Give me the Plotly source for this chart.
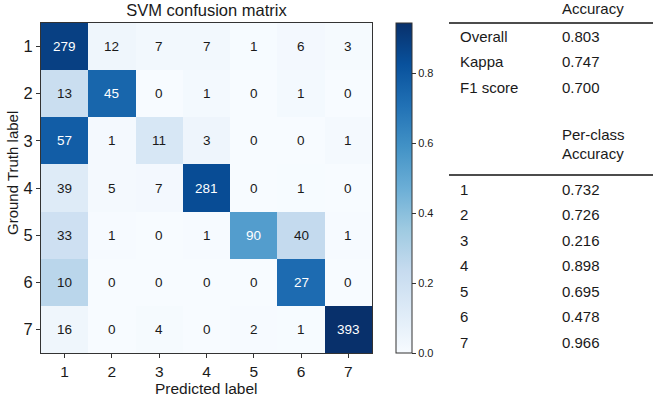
import plotly.graph_objects as go
import plotly.colors as pc

classes = ["1", "2", "3", "4", "5", "6", "7"]
confusion = [
    [279, 12, 7, 7, 1, 6, 3],
    [13, 45, 0, 1, 0, 1, 0],
    [57, 1, 11, 3, 0, 0, 1],
    [39, 5, 7, 281, 0, 1, 0],
    [33, 1, 0, 1, 90, 40, 1],
    [10, 0, 0, 0, 0, 27, 0],
    [16, 0, 4, 0, 2, 1, 393],
]
overall_names = ["Overall", "Kappa", "F1 score"]
overall_values = ["0.803", "0.747", "0.700"]
perclass_values = ["0.732", "0.726", "0.216", "0.898", "0.695", "0.478", "0.966"]

norm = [[v / sum(row) for v in row] for row in confusion]
zmax = max(max(r) for r in norm)

W, H = 660, 396
FONT = "Arial, Liberation Sans, Helvetica, sans-serif"
TXT = "#1a1a1a"

def px_x(p):
    return p / W

def px_y(p):
    return 1 - p / H

hx0, hx1, hy0, hy1 = 41, 372, 23, 353

fig = go.Figure()
fig.add_trace(go.Heatmap(
    z=norm, x=classes, y=classes,
    colorscale=pc.sequential.Blues, zmin=0, zmax=zmax,
    xgap=0, ygap=0, hoverinfo="skip",
    colorbar=dict(
        thickness=16, thicknessmode="pixels",
        len=(hy1 - hy0) / H, lenmode="fraction",
        x=px_x(396), xanchor="left", y=px_y(hy1), yanchor="bottom",
        xpad=0, ypad=0,
        outlinecolor="#333", outlinewidth=1,
        ticks="outside", ticklen=4, tickcolor="#333",
        tickvals=[0, 0.2, 0.4, 0.6, 0.8], tickformat=".1f",
        tickfont=dict(family=FONT, size=11, color=TXT),
    ),
))

anns = []
for i, row in enumerate(confusion):
    for j, v in enumerate(row):
        anns.append(dict(
            x=j, y=i, xref="x", yref="y", text=str(v),
            showarrow=False,
            font=dict(family=FONT, size=13.5, color="white" if norm[i][j] > zmax / 2 else TXT),
        ))

# axis titles
anns.append(dict(x=px_x(12), y=px_y(173), xref="paper", yref="paper",
                 text="Ground Truth label", textangle=-90, showarrow=False,
                 xanchor="center", yanchor="middle",
                 font=dict(family=FONT, size=15, color=TXT)))
anns.append(dict(x=px_x(206), y=px_y(388), xref="paper", yref="paper",
                 text="Predicted label", showarrow=False,
                 xanchor="center", yanchor="middle",
                 font=dict(family=FONT, size=15.5, color=TXT)))

# table text
TS = 15
lx, vx = 458, 560
anns.append(dict(x=px_x(vx), y=px_y(9), xref="paper", yref="paper", text="Accuracy",
                 xanchor="left", yanchor="middle", showarrow=False,
                 font=dict(family=FONT, size=TS, color=TXT)))
for k, (n, v) in enumerate(zip(overall_names, overall_values)):
    yy = 36 + k * 25.5
    anns.append(dict(x=px_x(lx), y=px_y(yy), xref="paper", yref="paper", text=n,
                     xanchor="left", yanchor="middle", showarrow=False,
                     font=dict(family=FONT, size=TS, color=TXT)))
    anns.append(dict(x=px_x(vx), y=px_y(yy), xref="paper", yref="paper", text=v,
                     xanchor="left", yanchor="middle", showarrow=False,
                     font=dict(family=FONT, size=TS, color=TXT)))
anns.append(dict(x=px_x(vx), y=px_y(134), xref="paper", yref="paper", text="Per-class",
                 xanchor="left", yanchor="middle", showarrow=False,
                 font=dict(family=FONT, size=TS, color=TXT)))
anns.append(dict(x=px_x(vx), y=px_y(153), xref="paper", yref="paper", text="Accuracy",
                 xanchor="left", yanchor="middle", showarrow=False,
                 font=dict(family=FONT, size=TS, color=TXT)))
for k, (c, v) in enumerate(zip(classes, perclass_values)):
    yy = 189 + k * 25.5
    anns.append(dict(x=px_x(lx), y=px_y(yy), xref="paper", yref="paper", text=c,
                     xanchor="left", yanchor="middle", showarrow=False,
                     font=dict(family=FONT, size=TS, color=TXT)))
    anns.append(dict(x=px_x(vx), y=px_y(yy), xref="paper", yref="paper", text=v,
                     xanchor="left", yanchor="middle", showarrow=False,
                     font=dict(family=FONT, size=TS, color=TXT)))

shapes = []
for yy in (23, 175):
    shapes.append(dict(type="line", xref="paper", yref="paper",
                       x0=px_x(449), x1=px_x(653), y0=px_y(yy), y1=px_y(yy),
                       line=dict(color="#111", width=1.3)))

axis_common = dict(
    showline=True, mirror=True, linecolor="#333", linewidth=1,
    ticks="outside", ticklen=4, tickcolor="#333", showgrid=False, zeroline=False,
)

fig.update_layout(
    width=W, height=H, autosize=False,
    margin=dict(l=0, r=0, t=0, b=0),
    paper_bgcolor="white", plot_bgcolor="white",
    title=dict(text="SVM confusion matrix", x=(hx0 + hx1) / 2 / W, xanchor="center",
               y=px_y(10), yanchor="middle", font=dict(family=FONT, size=16.5, color=TXT)),
    xaxis=dict(domain=[px_x(hx0), px_x(hx1)], type="category",
               tickfont=dict(family=FONT, size=15.5, color=TXT),
               **axis_common),
    yaxis=dict(domain=[px_y(hy1), px_y(hy0)], type="category", autorange="reversed",
               tickfont=dict(family=FONT, size=16.5, color=TXT),
               **axis_common),
    annotations=anns, shapes=shapes,
)

fig.write_html("out.html", post_script="document.body.style.margin='0';",
               config={"displayModeBar": False})
